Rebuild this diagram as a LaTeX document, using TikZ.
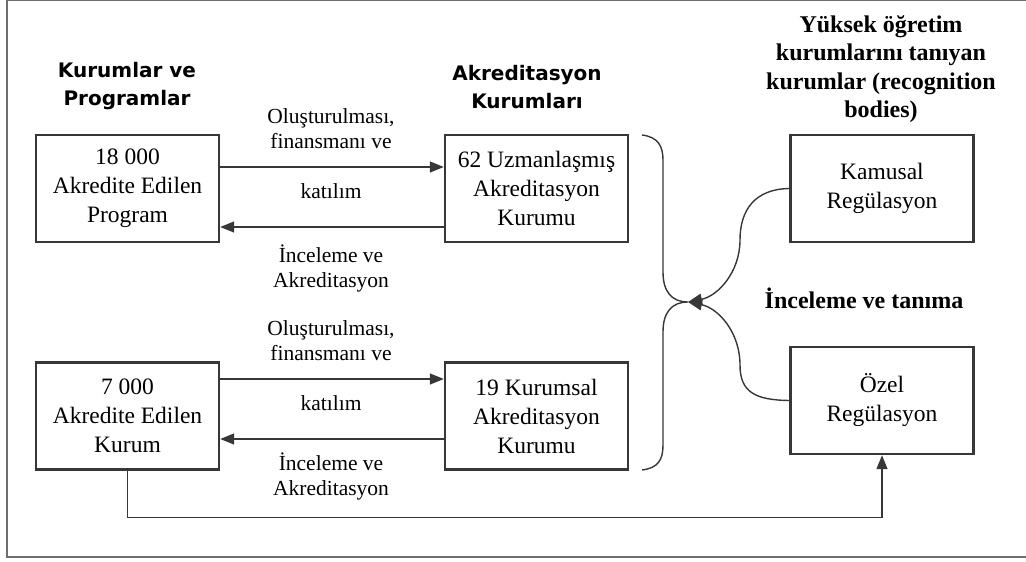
\documentclass[tikz,border=0pt]{standalone}
\usepackage{fontspec}
\setmainfont{Liberation Serif}
\newfontfamily\headsans{DejaVu Sans}
\usetikzlibrary{arrows.meta}
\definecolor{linegray}{RGB}{55,55,55}
\definecolor{framegray}{RGB}{110,110,110}

\tikzset{
  kutu/.style={draw=linegray,line width=2.4pt,minimum width=183pt,minimum height=107pt,
    align=center,inner sep=2pt,font=\fontsize{23.5}{29}\selectfont},
  etiket/.style={align=center,inner sep=0pt,font=\fontsize{21.5}{25}\selectfont},
  baslik/.style={align=center,inner sep=0pt,font=\headsans\bfseries\fontsize{20}{28}\selectfont},
  sbaslik/.style={align=center,inner sep=0pt,font=\bfseries\fontsize{24}{28.5}\selectfont},
  ok/.style={draw=linegray,line width=1.4pt,-{Triangle[length=14pt,width=11pt]}},
  kivrim/.style={draw=linegray,line width=1.4pt}
}

\begin{document}
\begin{tikzpicture}[x=1pt,y=-1pt]
\useasboundingbox (0,0) rectangle (1026,562);
% frame
\draw[framegray,line width=1pt] (1026,0.5) -- (6.5,0.5);
\draw[framegray,line width=2pt] (6.5,0) -- (6.5,557) -- (1026,557);

% headers
\node[baslik] at (127,86) {Kurumlar ve\\Programlar};
\node[baslik] at (527,87) {Akreditasyon\\Kurumları};
\node[sbaslik] at (881,69) {Yüksek öğretim\\kurumlarını tanıyan\\kurumlar (recognition\\bodies)};

% boxes
\node[kutu] (prog) at (127.5,188.5) {18 000\\Akredite Edilen\\Program};
\node[kutu] (uzman) at (536.5,188.5) {62 Uzmanlaşmış\\Akreditasyon\\Kurumu};
\node[kutu] (kurum) at (127.5,416) {7 000\\Akredite Edilen\\Kurum};
\node[kutu] (kurumsal) at (536.5,416) {19 Kurumsal\\Akreditasyon\\Kurumu};
\node[kutu] (kamusal) at (882,188.5) {Kamusal\\Regülasyon};
\node[kutu] (ozel) at (882,400.5) {Özel\\Regülasyon};

% upper pair
\draw[ok] ([yshift=21.5pt]prog.east) -- ([yshift=21.5pt]uzman.west);
\draw[ok] ([yshift=-38.5pt]uzman.west) -- ([yshift=-38.5pt]prog.east);
\node[etiket] at (331,129) {Oluşturulması,\\finansmanı ve};
\node[etiket] at (331,191) {katılım};
\node[etiket] at (331,268) {İnceleme ve\\Akreditasyon};

% lower pair
\draw[ok] ([yshift=37pt]kurum.east) -- ([yshift=37pt]kurumsal.west);
\draw[ok] ([yshift=-23pt]kurumsal.west) -- ([yshift=-23pt]kurum.east);
\node[etiket] at (331,341) {Oluşturulması,\\finansmanı ve};
\node[etiket] at (331,403) {katılım};
\node[etiket] at (331,476) {İnceleme ve\\Akreditasyon};

% brace and recognition arrows
\coordinate (uc) at (688,302);
\draw[kivrim] (642,135) .. controls (658,137) and (663,146) .. (663,160) -- (663,272)
  .. controls (663,292) and (672,302) .. (uc)
  .. controls (672,302) and (663,312) .. (663,332) -- (663,445)
  .. controls (663,460) and (658,468) .. (642,470);
\draw[ok] (kamusal.west) .. controls (755,189) and (740,210) .. (740,240)
  .. controls (740,272) and (718,296) .. (uc);
\draw[ok] (ozel.west) .. controls (755,400) and (740,392) .. (740,365)
  .. controls (740,332) and (718,308) .. (uc);
\node[sbaslik] at (864,298) {İnceleme ve tanıma};

% bottom connector
\draw[ok] (kurum.south) -- ++(0,47) -| (ozel.south);
\end{tikzpicture}
\end{document}
